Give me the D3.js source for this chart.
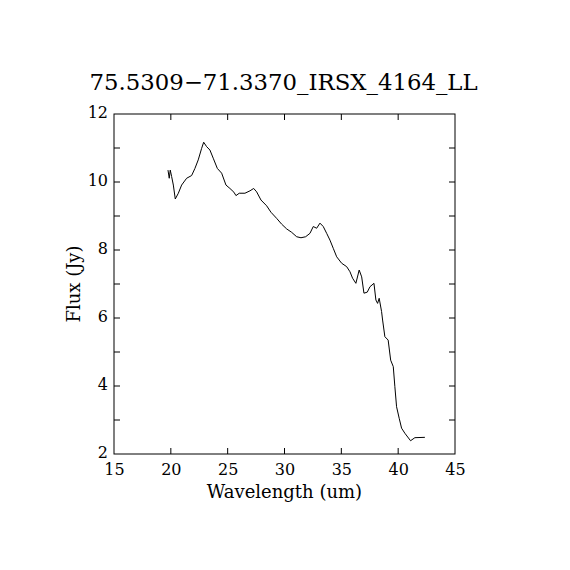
<!DOCTYPE html>
<html>
<head>
<meta charset="utf-8">
<script src="https://cdn.jsdelivr.net/npm/d3@7"></script>
<style>
  body { margin: 0; background: #fff; }
  text { font-family: "DejaVu Serif", serif; fill: #000; }
</style>
</head>
<body>
<div id="chart"></div>
<script>
// 1. Data
const titleText = "75.5309\u221271.3370_IRSX_4164_LL";
const wavelength = [
  19.75, 19.86, 19.95, 20.07, 20.22, 20.39, 20.66, 20.95, 21.39, 21.83,
  22.12, 22.41, 22.71, 22.89, 23.15, 23.44, 23.73, 24.09, 24.47, 24.85,
  25.20, 25.55, 25.73, 26.02, 26.52, 26.96, 27.29, 27.55, 27.93, 28.43,
  28.81, 29.31, 29.75, 30.19, 30.63, 31.07, 31.45, 31.86, 32.24, 32.53,
  32.83, 33.12, 33.41, 33.71, 34.00, 34.29, 34.59, 35.03, 35.47, 35.76,
  35.99, 36.28, 36.57, 36.79, 36.99, 37.28, 37.52, 37.87, 38.04, 38.19,
  38.33, 38.54, 38.63, 38.83, 39.12, 39.34, 39.57, 39.71, 39.86, 40.09,
  40.30, 40.59, 41.09, 41.47, 42.35
];
const flux = [
  10.35, 10.11, 10.35, 10.16, 9.91, 9.50, 9.67, 9.91, 10.11, 10.19,
  10.40, 10.65, 10.99, 11.17, 11.04, 10.94, 10.70, 10.40, 10.26, 9.91,
  9.81, 9.70, 9.60, 9.67, 9.67, 9.74, 9.81, 9.71, 9.47, 9.30,
  9.11, 8.93, 8.76, 8.62, 8.52, 8.39, 8.36, 8.39, 8.49, 8.69,
  8.64, 8.79, 8.69, 8.49, 8.29, 8.05, 7.80, 7.61, 7.51, 7.36,
  7.17, 7.02, 7.41, 7.21, 6.73, 6.76, 6.92, 7.02, 6.53, 6.43,
  6.58, 6.19, 5.94, 5.45, 5.35, 4.76, 4.57, 3.98, 3.39, 3.05,
  2.76, 2.61, 2.39, 2.48, 2.49
];
const xTicks = [15, 20, 25, 30, 35, 40, 45];
const yTicks = [2, 4, 6, 8, 10, 12];
const yMinorTicks = [3, 5, 7, 9, 11];

const dataset = wavelength.map((w, i) => ({ w: w, f: flux[i] }));
const xAccessor = d => d.w;
const yAccessor = d => d.f;

// 2. Dimensions
const dimensions = {
  width: 570,
  height: 570,
  margin: { top: 114, right: 115, bottom: 116, left: 114 }
};
dimensions.boundedWidth = dimensions.width - dimensions.margin.left - dimensions.margin.right;
dimensions.boundedHeight = dimensions.height - dimensions.margin.top - dimensions.margin.bottom;

// 3. Canvas
const wrapper = d3.select("#chart")
  .append("svg")
    .attr("width", dimensions.width)
    .attr("height", dimensions.height);

const bounds = wrapper.append("g")
  .attr("transform", `translate(${dimensions.margin.left},${dimensions.margin.top})`);

// 4. Scales
const xScale = d3.scaleLinear()
  .domain([15, 45])
  .range([0, dimensions.boundedWidth]);

const yScale = d3.scaleLinear()
  .domain([2, 12])
  .range([dimensions.boundedHeight, 0]);

// 5. Data line
const lineGenerator = d3.line()
  .x(d => xScale(xAccessor(d)))
  .y(d => yScale(yAccessor(d)));

bounds.append("path")
  .attr("d", lineGenerator(dataset))
  .attr("fill", "none")
  .attr("stroke", "#000")
  .attr("stroke-width", 1);

// 6. Axes: inward ticks on all four sides
const tickLen = 6;
const innerX = xTicks.filter(t => t > 15 && t < 45);
const allY = yTicks.concat(yMinorTicks).filter(t => t > 2 && t < 12);

const bottomAxis = d3.axisBottom(xScale)
  .tickValues(xTicks)
  .tickSize(0)
  .tickPadding(10)
  .tickFormat(d3.format("d"));

const bottomG = bounds.append("g")
  .attr("transform", `translate(0,${dimensions.boundedHeight})`)
  .call(bottomAxis);
bottomG.select(".domain").remove();
bottomG.selectAll("text").attr("font-size", 16).style("font-family", "DejaVu Serif");

const leftAxis = d3.axisLeft(yScale)
  .tickValues(yTicks)
  .tickSize(0)
  .tickPadding(6)
  .tickFormat(d3.format("d"));

const leftG = bounds.append("g").call(leftAxis);
leftG.select(".domain").remove();
leftG.selectAll("text")
  .attr("font-size", 16)
  .attr("dy", "0.2em")
  .style("font-family", "DejaVu Serif");

// tick marks
const ticksG = bounds.append("g")
  .attr("stroke", "#000")
  .attr("stroke-width", 1);

ticksG.selectAll(".xb").data(innerX).join("line")
  .attr("x1", d => xScale(d)).attr("x2", d => xScale(d))
  .attr("y1", dimensions.boundedHeight).attr("y2", dimensions.boundedHeight - tickLen);
ticksG.selectAll(".xt").data(innerX).join("line")
  .attr("class", "xt")
  .attr("x1", d => xScale(d)).attr("x2", d => xScale(d))
  .attr("y1", 0).attr("y2", tickLen);
ticksG.selectAll(".yl").data(allY).join("line")
  .attr("class", "yl")
  .attr("x1", 0).attr("x2", tickLen)
  .attr("y1", d => yScale(d)).attr("y2", d => yScale(d));
ticksG.selectAll(".yr").data(allY).join("line")
  .attr("class", "yr")
  .attr("x1", dimensions.boundedWidth).attr("x2", dimensions.boundedWidth - tickLen)
  .attr("y1", d => yScale(d)).attr("y2", d => yScale(d));

// frame
bounds.append("rect")
  .attr("width", dimensions.boundedWidth)
  .attr("height", dimensions.boundedHeight)
  .attr("fill", "none")
  .attr("stroke", "#000")
  .attr("stroke-width", 1);

// 7. Labels
wrapper.append("text")
  .attr("x", dimensions.margin.left + dimensions.boundedWidth / 2 - 1)
  .attr("y", 90)
  .attr("text-anchor", "middle")
  .attr("font-size", 22.8)
  .text(titleText);

wrapper.append("text")
  .attr("x", dimensions.margin.left + dimensions.boundedWidth / 2)
  .attr("y", 498)
  .attr("text-anchor", "middle")
  .attr("font-size", 18)
  .text("Wavelength (um)");

wrapper.append("text")
  .attr("transform", `translate(80,${dimensions.margin.top + dimensions.boundedHeight / 2}) rotate(-90)`)
  .attr("text-anchor", "middle")
  .attr("font-size", 18)
  .text("Flux (Jy)");
</script>
</body>
</html>
